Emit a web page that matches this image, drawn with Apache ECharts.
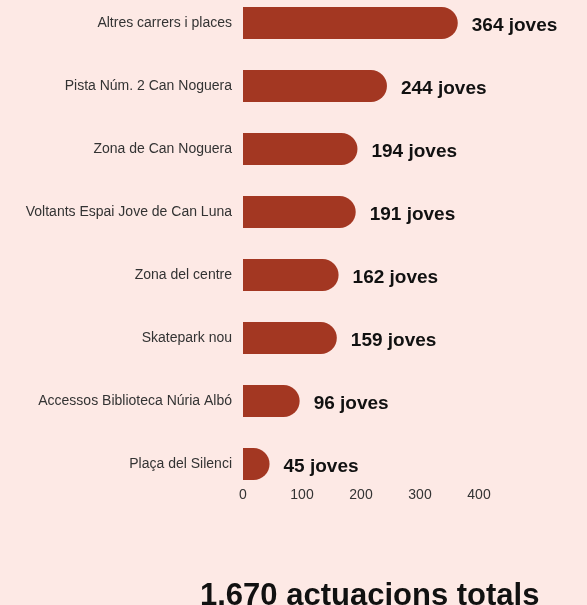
<!DOCTYPE html>
<html><head><meta charset="utf-8">
<script src="https://cdn.jsdelivr.net/npm/echarts@6/dist/echarts.min.js"></script>
<style>html,body{margin:0;padding:0;background:#fde9e5;}#c{width:587px;height:605px;}</style>
</head><body><div id="c"></div>
<script>
const categories = ["Altres carrers i places","Pista Núm. 2 Can Noguera","Zona de Can Noguera","Voltants Espai Jove de Can Luna","Zona del centre","Skatepark nou","Accessos Biblioteca Núria Albó","Plaça del Silenci"];
const values = [364,244,194,191,162,159,96,45];
const unitSuffix = " joves";
const titleText = "1.670 actuacions totals";
const chart = echarts.init(document.getElementById('c'));
chart.setOption({
  backgroundColor: '#fde9e5',
  animation: false,
  title: {
    text: titleText, left: 195, top: 576,
    textStyle: {fontFamily: 'Liberation Sans', fontWeight: 'bold', fontSize: 31, color: '#111'}
  },
  grid: {left: 243, right: 108, top: -8.5, height: 504, containLabel: false, outerBoundsMode: 'none'},
  xAxis: {
    type: 'value', min: 0, max: 400, interval: 100,
    splitLine: {show: false}, axisLine: {show: false}, axisTick: {show: false},
    axisLabel: {margin: -7, fontFamily: 'Liberation Sans', fontSize: 14, color: '#333'}
  },
  yAxis: {
    type: 'category', data: categories, inverse: true,
    axisLine: {show: false}, axisTick: {show: false},
    axisLabel: {margin: 11, fontFamily: 'Liberation Sans', fontSize: 14, color: '#333'}
  },
  series: [{
    type: 'bar', data: values, barWidth: 32,
    itemStyle: {color: '#a33722', borderRadius: [0,16,16,0]},
    label: {show: true, position: 'right', distance: 14, offset: [0, 3],
      formatter: p => p.value + unitSuffix,
      fontFamily: 'Liberation Sans', fontWeight: 'bold', fontSize: 19, color: '#111'}
  }]
});
</script></body></html>
